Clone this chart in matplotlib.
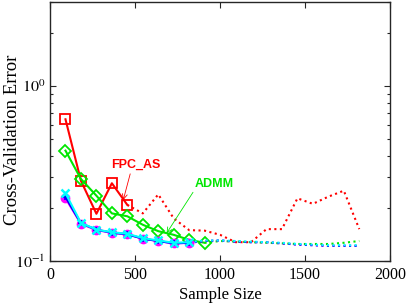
import matplotlib
matplotlib.use("Agg")
import matplotlib.pyplot as plt
import numpy as np

plt.rcParams['font.family'] = ['Liberation Serif', 'DejaVu Serif']
plt.rcParams['mathtext.fontset'] = 'stix'

# Sample sizes
n_all = [91, 182, 273, 364, 455, 546, 637, 728, 819, 910, 1001, 1092, 1183,
         1274, 1365, 1456, 1547, 1638, 1729, 1820]

# FPC_AS (red): solid w/ markers for first 5 points, dotted after
fpc = [0.645, 0.287, 0.186, 0.278, 0.209, 0.187, 0.240, 0.175, 0.150, 0.149,
       0.141, 0.128, 0.128, 0.152, 0.152, 0.228, 0.212, 0.233, 0.252, 0.152]
fpc_solid_n = 5

# ADMM (green): solid w/ markers for first 10 points
admm = [0.427, 0.294, 0.236, 0.187, 0.180, 0.161, 0.148, 0.141, 0.132, 0.127,
        0.130, 0.129, 0.128, 0.127, 0.126, 0.125, 0.125, 0.125, 0.127, 0.130]
admm_solid_n = 10

# Other three methods (magenta, blue, cyan): solid for first 9 points
mag = [0.228, 0.163, 0.150, 0.145, 0.142, 0.134, 0.130, 0.126, 0.127, 0.130,
       0.131, 0.129, 0.128, 0.128, 0.126, 0.124, 0.123, 0.122, 0.122, 0.122]
blu = [0.232, 0.164, 0.151, 0.145, 0.142, 0.134, 0.130, 0.126, 0.127, 0.130,
       0.131, 0.129, 0.128, 0.128, 0.126, 0.124, 0.123, 0.122, 0.122, 0.122]
cya = [0.244, 0.165, 0.151, 0.146, 0.143, 0.135, 0.131, 0.127, 0.128, 0.131,
       0.131, 0.130, 0.129, 0.128, 0.127, 0.125, 0.124, 0.123, 0.123, 0.123]
grp_solid_n = 9

fig = plt.figure(figsize=(4.07, 3.07), dpi=100)
ax = fig.add_axes([0.1229, 0.150, 0.835, 0.842])

def draw(vals, nsolid, color, marker, mfc, ms, mew):
    ax.plot(n_all[nsolid - 1:], vals[nsolid - 1:], ':', color=color, lw=1.5)
    ax.plot(n_all[:nsolid], vals[:nsolid], '-', color=color, lw=1.5,
            marker=marker, mfc=mfc, mec=color, ms=ms, mew=mew)

draw(fpc, fpc_solid_n, (1, 0, 0), 's', 'none', 6.5, 1.3)
draw(admm, admm_solid_n, (0, 0.9, 0), 'D', 'none', 6.3, 1.3)
draw(mag, grp_solid_n, (1, 0, 1), 'o', (1, 0, 1), 6, 1)
draw(blu, grp_solid_n, (0, 0, 1), '+', 'none', 5, 1.2)
draw(cya, grp_solid_n, (0, 1, 1), 'x', 'none', 6, 1.8)

ax.set_yscale('log')
ax.set_xlim(0, 2000)
ax.set_ylim(0.1, 3)
ax.set_xticks([0, 500, 1000, 1500, 2000])
ax.set_yticks([0.1, 1])
ax.set_yticklabels([r'$10^{-1}$', r'$10^{0}$'])
ax.tick_params(which='both', direction='in', top=True, right=True,
               labelsize=11.5, colors='#262626', labelcolor='black')
ax.tick_params(axis='x', pad=4.5)
ax.tick_params(which='major', length=4, width=0.8)
ax.tick_params(which='minor', length=2, width=0.8)
ax.set_xlabel('Sample Size', fontsize=12, labelpad=2.5)
ax.set_ylabel('Cross-Validation Error', fontsize=13.5)
ax.yaxis.set_label_coords(-0.085, 0.47)
for s in ax.spines.values():
    s.set_color('#262626')
    s.set_linewidth(1.0)

ax.annotate('FPC_AS', xy=(431, 0.223), xytext=(360, 0.353),
            color=(1, 0, 0), fontsize=9, fontweight='bold', family='Liberation Sans',
            ha='left', va='center',
            arrowprops=dict(arrowstyle='->', color=(1, 0, 0), lw=0.6,
                            shrinkA=0, shrinkB=0, relpos=(0.4, 0)))
ax.annotate('ADMM', xy=(686, 0.144), xytext=(852, 0.277),
            color=(0, 0.9, 0), fontsize=9, fontweight='bold', family='Liberation Sans',
            ha='left', va='center',
            arrowprops=dict(arrowstyle='->', color=(0, 0.9, 0), lw=0.6,
                            shrinkA=0, shrinkB=0, relpos=(0, 0)))

fig.savefig('out.png', dpi=100)
